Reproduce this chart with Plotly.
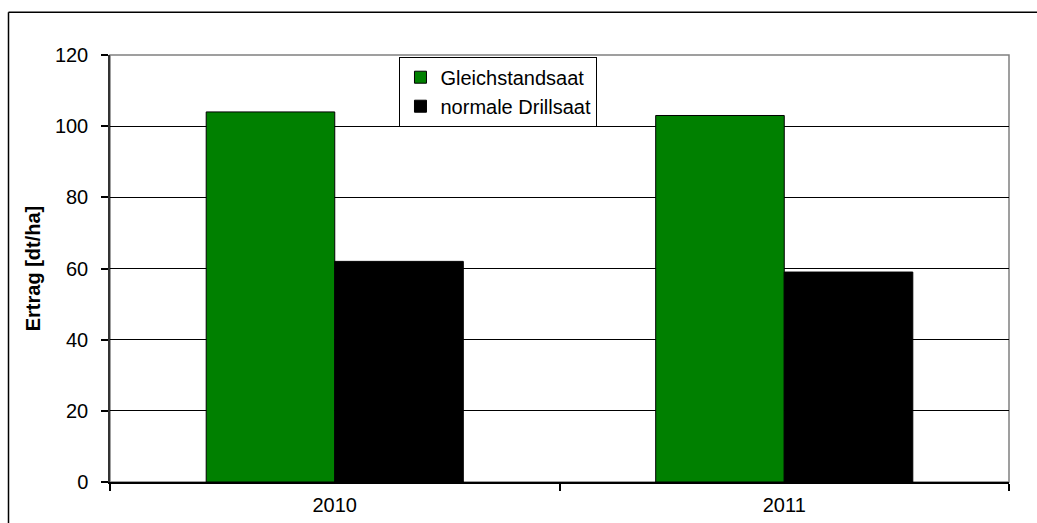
import plotly.graph_objects as go

years = ['2010', '2011']
gleichstand = [104, 103]
drillsaat = [62, 59]

FONT = 'Arial, Liberation Sans, sans-serif'

fig = go.Figure()
fig.add_trace(go.Bar(
    x=years, y=gleichstand, name='Gleichstandsaat',
    marker=dict(color='#008000', line=dict(color='black', width=1))
))
fig.add_trace(go.Bar(
    x=years, y=drillsaat, name='normale Drillsaat',
    marker=dict(color='black', line=dict(color='black', width=1))
))

# outer chart frame: only top and left edges are inside the picture
fig.add_shape(type='line', xref='paper', yref='paper',
              x0=-0.1129, x1=1.5, y0=1.1, y1=1.1,
              line=dict(color='black', width=1.5), layer='below')
fig.add_shape(type='line', xref='paper', yref='paper',
              x0=-0.1129, x1=-0.1129, y0=-0.5, y1=1.1,
              line=dict(color='black', width=1.5), layer='below')
# plot area border
fig.add_shape(type='rect', xref='paper', yref='paper',
              x0=0, x1=1, y0=0, y1=1,
              line=dict(color='#808080', width=1.5), layer='between')

fig.update_layout(
    width=1037, height=523,
    margin=dict(l=110, r=28, t=55, b=41),
    paper_bgcolor='white', plot_bgcolor='white',
    font=dict(family=FONT, size=20, color='black'),
    barmode='group', bargap=0.428, bargroupgap=0,
    showlegend=True,
    legend=dict(
        x=0.322, y=0.996, xanchor='left', yanchor='top',
        bgcolor='white', bordercolor='black', borderwidth=1,
        font=dict(family=FONT, size=20, color='black'),
        tracegroupgap=0
    ),
    xaxis=dict(
        showline=True, linecolor='black', linewidth=1.5,
        ticks='outside', tickson='boundaries', ticklen=7,
        tickcolor='black', tickwidth=1.5, showgrid=False,
        ticklabelstandoff=4, automargin=False,
        tickfont=dict(size=20)
    ),
    yaxis=dict(
        range=[0, 120], dtick=20,
        showline=True, linecolor='#333333', linewidth=1.5,
        ticks='outside', ticklen=7, tickcolor='black', tickwidth=1.5,
        ticklabelstandoff=9, automargin=False,
        showgrid=True, gridcolor='black', gridwidth=1,
        zeroline=False, tickfont=dict(size=20),
        title=dict(text='<b>Ertrag [dt/ha]</b>', font=dict(size=20), standoff=9)
    )
)

# drop the default page margin so the figure fills the window exactly
fig.write_html('out.html', config={'displayModeBar': False}, post_script=(
    "document.body.style.margin='0';"
    "document.body.style.overflow='hidden';"
))
